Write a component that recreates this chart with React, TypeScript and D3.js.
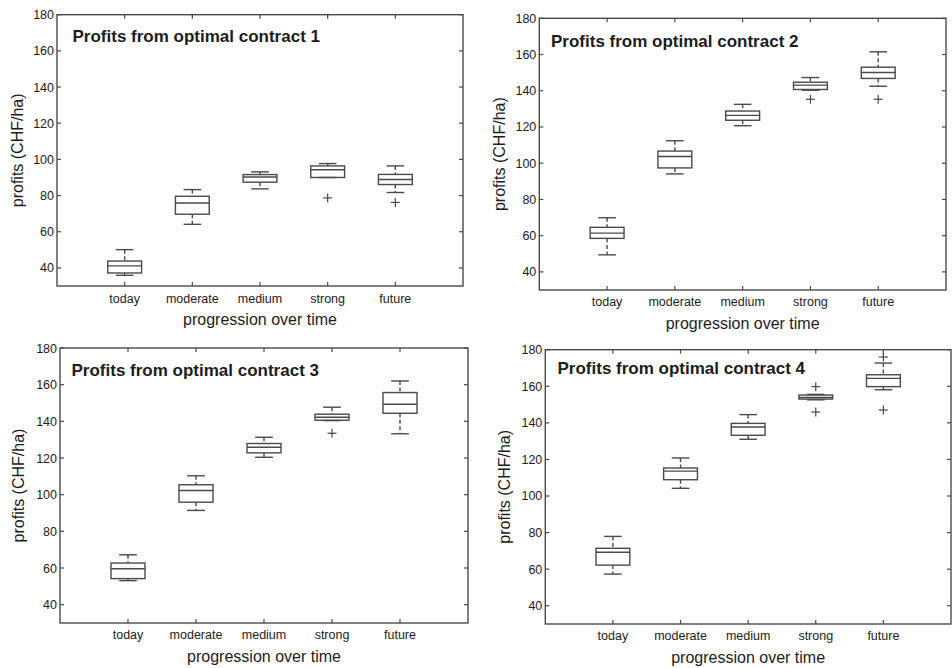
import React from "react";
import * as d3 from "d3";

// ---------- data ----------
const categories = ["today", "moderate", "medium", "strong", "future"];
const yTicks = [40, 60, 80, 100, 120, 140, 160, 180];
const titles = [
  "Profits from optimal contract 1",
  "Profits from optimal contract 2",
  "Profits from optimal contract 3",
  "Profits from optimal contract 4",
];

// [lower whisker, q1, median, q3, upper whisker] per category
const contract1 = [
  [35.9, 37.2, 41.1, 43.8, 50.1],
  [64.1, 69.7, 75.9, 79.6, 83.3],
  [83.7, 87.4, 90.3, 91.6, 93.1],
  [90.0, 90.0, 94.3, 96.4, 97.7],
  [81.7, 86.1, 88.9, 91.7, 96.4],
];
const outliers1 = [[], [], [], [78.7], [76.2]];

const contract2 = [
  [49.4, 58.5, 61.4, 64.6, 69.9],
  [94.1, 97.4, 103.7, 106.7, 112.4],
  [120.7, 123.7, 126.4, 128.8, 132.5],
  [140.3, 140.7, 143.1, 144.7, 147.3],
  [142.5, 146.8, 150.1, 153.0, 161.5],
];
const outliers2 = [[], [], [], [135.3], [135.3]];

const contract3 = [
  [53.1, 54.2, 59.6, 62.7, 67.2],
  [91.4, 95.9, 102.3, 105.4, 110.3],
  [120.4, 122.8, 125.9, 127.9, 131.3],
  [140.4, 140.6, 142.2, 143.9, 147.7],
  [133.2, 144.4, 149.3, 155.7, 162.0],
];
const outliers3 = [[], [], [], [133.5], []];

const contract4 = [
  [57.3, 62.2, 69.2, 71.4, 77.9],
  [104.2, 108.9, 113.6, 115.3, 120.8],
  [131.0, 133.2, 137.7, 139.7, 144.5],
  [152.6, 153.0, 153.9, 155.2, 155.6],
  [158.1, 159.8, 164.3, 166.3, 172.7],
];
const outliers4 = [[], [], [], [159.8, 145.9], [176.0, 147.0]];

const panelData = [contract1, contract2, contract3, contract4];
const panelOutliers = [outliers1, outliers2, outliers3, outliers4];

// ---------- layout ----------
const layout = [
  { left: 57, right: 463, top: 14.7, bottom: 286, titleX: 72.5, titleY: 42, tickY: 302.5, xLabelY: 325, yLabelX: 17 },
  { left: 539.3, right: 946, top: 18.3, bottom: 290, titleX: 551, titleY: 46.5, tickY: 306, xLabelY: 328.5, yLabelX: 499 },
  { left: 60, right: 468, top: 348, bottom: 623, titleX: 71.5, titleY: 375.5, tickY: 639, xLabelY: 662, yLabelX: 18 },
  { left: 545.3, right: 951, top: 349.7, bottom: 624, titleX: 557.5, titleY: 374, tickY: 640, xLabelY: 662.5, yLabelX: 504 },
];

const FONT = "'Liberation Sans', Arial, sans-serif";
const LINE = "#4a4a4a";
const TEXT = "#1c1c1c";

function Panel({ idx }: { idx: number }) {
  const L = layout[idx];
  const data = panelData[idx];
  const outs = panelOutliers[idx];
  const x = d3.scaleLinear().domain([0, 6]).range([L.left, L.right]);
  const y = d3.scaleLinear().domain([30, 180]).range([L.bottom, L.top]);
  const boxHalf = (x(0.25) - x(0));
  const capHalf = (x(0.13) - x(0));
  const tickLen = 4;
  const cx = (L.left + L.right) / 2;
  const cy = (L.top + L.bottom) / 2;

  return (
    <g>
      {/* frame */}
      <rect x={L.left} y={L.top} width={L.right - L.left} height={L.bottom - L.top}
        fill="none" stroke={LINE} strokeWidth={1.4} />
      {/* y ticks */}
      {yTicks.map((t) => (
        <g key={"yt" + t}>
          <line x1={L.left} x2={L.left + tickLen} y1={y(t)} y2={y(t)} stroke={LINE} strokeWidth={1.2} />
          <line x1={L.right} x2={L.right - tickLen} y1={y(t)} y2={y(t)} stroke={LINE} strokeWidth={1.2} />
          <text x={L.left - 3} y={y(t) + 4.5} textAnchor="end" fontSize={12.5} fontFamily={FONT} fill={TEXT}>{t}</text>
        </g>
      ))}
      {/* x ticks */}
      {categories.map((c, i) => (
        <g key={"xt" + c}>
          <line x1={x(i + 1)} x2={x(i + 1)} y1={L.bottom} y2={L.bottom - tickLen} stroke={LINE} strokeWidth={1.2} />
          <line x1={x(i + 1)} x2={x(i + 1)} y1={L.top} y2={L.top + tickLen} stroke={LINE} strokeWidth={1.2} />
          <text x={x(i + 1)} y={L.tickY} textAnchor="middle" fontSize={12.5} fontFamily={FONT} fill={TEXT}>{c}</text>
        </g>
      ))}
      {/* boxes */}
      {data.map((d, i) => {
        const px = x(i + 1);
        const [lo, q1, med, q3, hi] = d;
        return (
          <g key={"b" + i} stroke={LINE} strokeWidth={1.4} fill="none">
            <line x1={px} x2={px} y1={y(hi)} y2={y(q3)} strokeDasharray="4,2.5" />
            <line x1={px} x2={px} y1={y(q1)} y2={y(lo)} strokeDasharray="4,2.5" />
            <line x1={px - capHalf} x2={px + capHalf} y1={y(hi)} y2={y(hi)} />
            <line x1={px - capHalf} x2={px + capHalf} y1={y(lo)} y2={y(lo)} />
            <rect x={px - boxHalf} y={y(q3)} width={boxHalf * 2} height={Math.max(0.5, y(q1) - y(q3))} />
            <line x1={px - boxHalf} x2={px + boxHalf} y1={y(med)} y2={y(med)} />
            {outs[i].map((o, j) => (
              <g key={"o" + j} strokeWidth={1.2}>
                <line x1={px - 4.5} x2={px + 4.5} y1={y(o)} y2={y(o)} />
                <line x1={px} x2={px} y1={y(o) - 4.5} y2={y(o) + 4.5} />
              </g>
            ))}
          </g>
        );
      })}
      {/* title */}
      <text x={L.titleX} y={L.titleY} fontSize={17} fontWeight="bold" fontFamily={FONT} fill={TEXT}>{titles[idx]}</text>
      {/* axis labels */}
      <text x={cx} y={L.xLabelY} textAnchor="middle" fontSize={16} fontFamily={FONT} fill={TEXT}>progression over time</text>
      <text transform={`translate(${L.yLabelX + 5.5},${cy}) rotate(-90)`} textAnchor="middle" fontSize={16} fontFamily={FONT} fill={TEXT}>profits (CHF/ha)</text>
    </g>
  );
}

export default function App() {
  return (
    <svg width={952} height={668} style={{ position: "absolute", left: 0, top: 0, display: "block", background: "#fff" }}>
      <rect x={0} y={0} width={952} height={668} fill="#fff" />
      {[0, 1, 2, 3].map((i) => <Panel key={i} idx={i} />)}
    </svg>
  );
}
